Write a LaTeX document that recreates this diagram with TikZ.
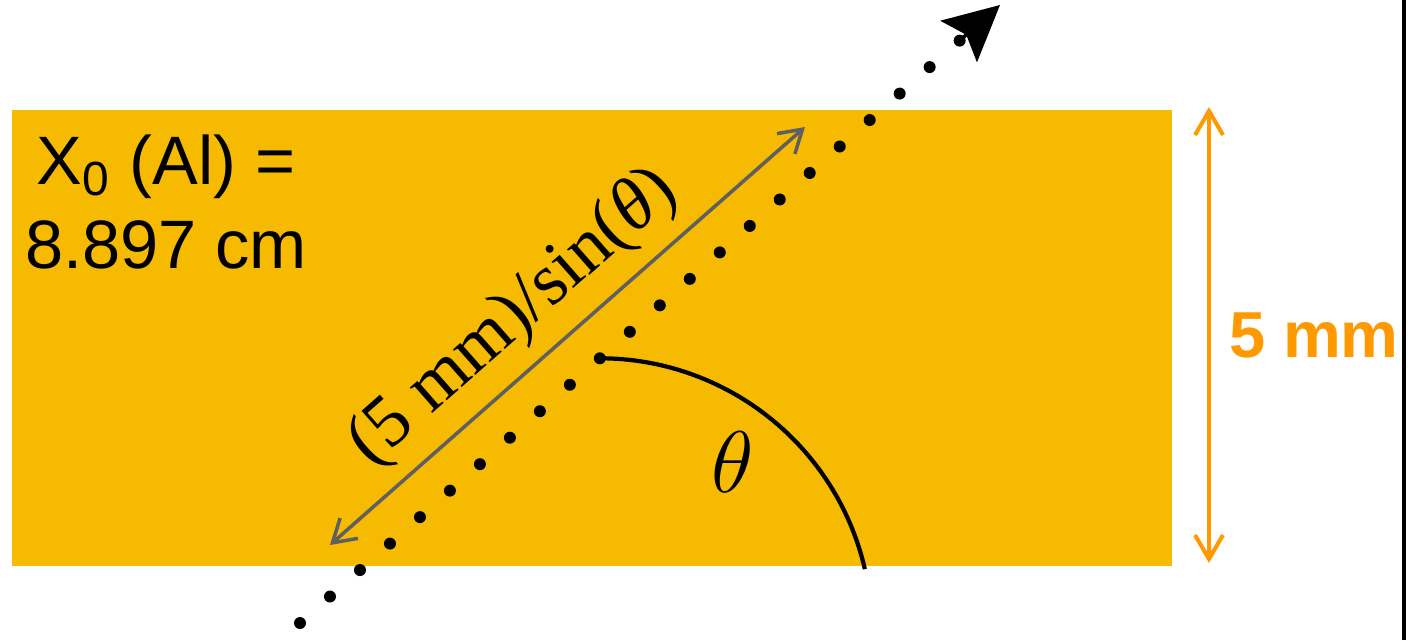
\documentclass[tikz,border=0pt]{standalone}
\usepackage[no-math]{fontspec}
\setmainfont{Liberation Sans}
\newfontfamily\serif{Liberation Serif}
\usepackage{tikz}
\usetikzlibrary{arrows.meta,calc,positioning}

\definecolor{slabgold}{HTML}{F6BA00}
\definecolor{dimorange}{HTML}{FF9900}
\definecolor{pathgray}{HTML}{5F5F5F}

\begin{document}
\begin{tikzpicture}[
  slab/.style={fill=slabgold, draw=none},
  trackdot/.style={fill=black},
  trackhead/.style={line width=1pt, -{Stealth[length=0.55cm, width=0.55cm, inset=0.1cm]}},
  pathlen/.style={draw=pathgray, line width=1pt, {Straight Barb[length=0.22cm, width=0.27cm]}-{Straight Barb[length=0.22cm, width=0.27cm]}},
  dimline/.style={draw=dimorange, line width=1.15pt, {Straight Barb[length=0.24cm, width=0.28cm]}-{Straight Barb[length=0.24cm, width=0.28cm]}},
  anglearc/.style={draw=black, line width=1.2pt},
  lbl/.style={font=\fontsize{19.5}{24}\selectfont, align=center}
]

\def\dstep{0.4}

\useasboundingbox (0,0) rectangle (14.08,6.40);

% the aluminium slab
\fill[slab] (0.12,0.74) rectangle (11.72,5.30);

\coordinate (trk0) at (3.00,0.17);
\coordinate (trk1) at (10.00,6.35);
\coordinate (vtx) at ($(trk0)!4.0cm!(trk1)$);

% dotted track
\foreach \k in {0,...,22}
  \fill[trackdot] ($(trk0)!\k*\dstep cm!(trk1)$) circle (0.06);
\draw[trackhead] ($(trk0)!8.8cm!(trk1)$) -- (trk1);

% path length through the slab
\coordinate (len0) at (3.30,0.95);
\coordinate (len1) at (8.05,5.13);
\draw[pathlen] (len0) -- (len1)
  node[pos=0.455, above=0.02cm, sloped, font=\serif\fontsize{21}{25}\selectfont] (lenlbl) {(5 mm)/sin(\textit{θ})};

% angle
\draw[anglearc] (vtx) arc[start angle=90, end angle=13, radius=2.72];
\node[font=\fontsize{25}{30}\selectfont] (theta) at (7.33,1.78) {$\theta$};

% thickness
\coordinate (dim0) at (12.09,5.33);
\coordinate (dim1) at (12.09,0.77);
\draw[dimline] (dim0) -- (dim1)
  node[midway, right=0.18cm, inner sep=0pt, text=dimorange, font=\bfseries\fontsize{18.5}{22}\selectfont] (dimlbl) {5 mm};

\node[lbl] (xzero) at (1.66,4.38) {X\textsubscript{0} (Al) =\\8.897 cm};

\draw[line width=0.035cm] (14.04,0) -- (14.04,6.40);

\end{tikzpicture}
\end{document}
